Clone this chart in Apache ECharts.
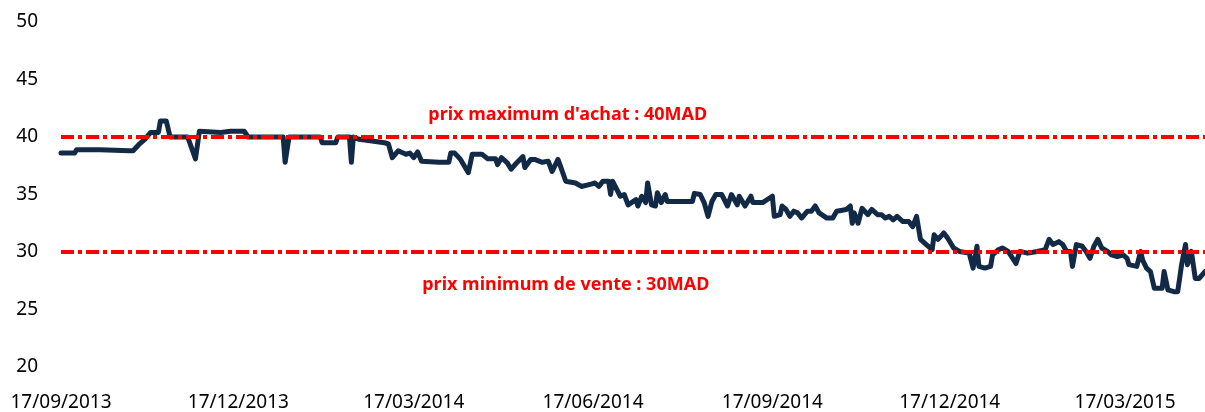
<!DOCTYPE html>
<html>
<head>
<meta charset="utf-8">
<script src="https://cdn.jsdelivr.net/npm/echarts@6/dist/echarts.min.js"></script>
<style>
  html, body { margin: 0; padding: 0; background: #fff; }
  #chart { width: 1205px; height: 412px; }
</style>
</head>
<body>
<div id="chart"></div>
<script>
// days counted from 17/09/2013
var dayOffsets = [
  0, 7, 8, 20, 35, 37, 40, 43, 46, 50, 51, 54, 56, 65, 69, 71, 82, 87, 94, 96,
  114, 115, 117, 133, 134, 141, 142, 148, 149, 150, 153, 166, 168, 170, 173, 177, 179, 181, 183, 185, 194,
  199, 200, 202, 205, 209, 211, 216, 219, 223, 224, 226, 229, 231, 233, 237, 238, 241, 243, 247, 250,
  252, 255, 256, 259, 264, 267, 272, 274, 276, 278, 281, 282, 283, 284, 287, 288, 289, 291,
  295, 296, 298, 300, 301, 302, 303, 305, 306, 308, 310, 311, 324, 325, 328, 330, 332, 334, 336, 339,
  342, 344, 347, 348, 351, 354, 355, 360, 365, 366, 369, 370, 372, 374, 376, 378, 380, 383, 385, 387, 388,
  389, 393, 396, 398, 403, 405, 406, 407, 409, 411, 414, 416, 419, 421, 423, 425, 427, 429, 432, 435,
  437, 439, 441, 444, 447, 448, 450, 453, 455, 456, 458, 461, 466, 468, 470, 471, 474, 477, 478, 481, 483, 486,
  487, 490, 492, 496, 501, 505, 507, 509, 512, 514, 516, 518, 519, 521, 524, 526, 528, 530, 532, 534,
  537, 539, 542, 545, 547, 548, 552, 554, 555, 557, 559, 561, 565, 566, 568, 571, 573, 575, 577, 578,
  580, 582, 584, 587
];
var prices = [
  38.6, 38.6, 38.9, 38.9, 38.8, 38.8, 39.35, 39.8, 40.4, 40.4, 41.4, 41.4, 40.0, 40.0, 38.1, 40.5, 40.4, 40.5, 40.5, 40.0,
  40.0, 37.8, 40.0, 40.0, 39.5, 39.5, 40.0, 40.0, 37.8, 40.0, 39.8, 39.5, 39.4, 38.2, 38.8, 38.5, 38.6, 38.2, 38.7, 37.9, 37.8,
  37.8, 38.6, 38.6, 38.05, 36.9, 38.5, 38.5, 38.1, 38.1, 37.6, 38.2, 37.75, 37.2, 37.6, 38.3, 37.35, 38.05, 38.05, 37.8, 37.9,
  37.0, 38.05, 37.6, 36.15, 36.0, 35.7, 35.9, 36.0, 35.7, 36.15, 36.15, 35.0, 36.15, 36.15, 34.85, 34.85, 35.0, 34.1,
  34.55, 34.0, 34.85, 34.3, 36.0, 36.15, 34.1, 34.0, 35.15, 34.3, 35.0, 34.4, 34.4, 35.1, 35.0, 34.3, 33.1, 34.4, 35.0, 35.0,
  34.0, 35.0, 34.1, 34.85, 34.0, 34.85, 34.3, 34.3, 34.85, 33.1, 33.25, 34.0, 33.7, 33.1, 33.55, 33.4, 32.95, 33.55, 33.55, 34.0, 33.7,
  33.4, 32.95, 32.95, 33.55, 33.7, 34.0, 32.5, 33.4, 32.5, 33.8, 33.25, 33.7, 33.25, 33.25, 32.95, 33.1, 32.8, 33.1, 32.65, 32.65,
  32.2, 33.1, 31.1, 30.65, 30.2, 31.5, 31.1, 31.65, 31.2, 31.35, 30.35, 30.05, 29.9, 28.6, 30.5, 28.75, 28.6, 28.75, 29.75, 30.2, 30.35, 30.05,
  29.9, 29.0, 30.05, 29.9, 30.05, 30.2, 31.1, 30.65, 30.9, 30.65, 30.05, 30.05, 28.75, 30.65, 30.5, 30.05, 29.45, 30.5, 31.1, 30.35,
  30.05, 29.75, 29.6, 29.75, 29.45, 28.9, 28.75, 30.05, 29.3, 28.6, 28.3, 26.85, 26.85, 28.3, 26.7, 26.55, 26.55, 28.9, 30.65, 28.9,
  30.05, 27.7, 27.7, 28.3
];
var lastDay = 587;
var tickLabels = ['17/09/2013', '17/12/2013', '17/03/2014', '17/06/2014', '17/09/2014', '17/12/2014', '17/03/2015'];
var limitValues = [40, 30];
var limitTexts = ["prix maximum d'achat : 40MAD", 'prix minimum de vente : 30MAD'];
// where the two notes sit: [day, price]
var limitTextAnchors = [[260, 41.95], [259, 27.15]];

var DAY = 86400000;
var startTime = Date.UTC(2013, 8, 17);

function labelToDay(s) {
  var p = s.split('/');
  return Math.round((Date.UTC(+p[2], +p[1] - 1, +p[0]) - startTime) / DAY);
}

var tickDays = tickLabels.map(labelToDay);

var seriesData = dayOffsets.map(function(d, i) {
  return [d, prices[i]];
});

var font = 'Noto Sans';

var chart = echarts.init(document.getElementById('chart'));
chart.setOption({
  animation: false,
  backgroundColor: '#fff',
  grid: { left: 61, right: 0, top: 22, bottom: 45 },
  xAxis: {
    type: 'value',
    min: 0,
    max: lastDay,
    axisLine: { show: false },
    axisTick: { show: false },
    splitLine: { show: false },
    axisLabel: {
      customValues: tickDays,
      hideOverlap: false,
      margin: 26,
      fontFamily: font,
      fontSize: 19,
      color: '#000',
      formatter: function(v) {
        var i = tickDays.indexOf(Math.round(v));
        return i >= 0 ? tickLabels[i] : '';
      }
    }
  },
  yAxis: {
    type: 'value',
    min: 20,
    max: 50,
    interval: 5,
    axisLine: { show: false },
    axisTick: { show: false },
    splitLine: { show: false },
    axisLabel: { margin: 23, fontFamily: font, fontSize: 19, color: '#000' }
  },
  series: [
    {
      type: 'line',
      data: seriesData,
      showSymbol: false,
      symbol: 'none',
      lineStyle: { color: '#132a47', width: 5, join: 'round', cap: 'round' },
      z: 2
    },
    {
      type: 'line',
      data: [],
      z: 5,
      markLine: {
        silent: true,
        symbol: ['none', 'none'],
        label: { show: false },
        lineStyle: { color: '#ff0000', width: 4, type: [13, 4, 4, 4], opacity: 1 },
        data: limitValues.map(function(v) { return { yAxis: v }; })
      },
      markPoint: {
        silent: true,
        symbol: 'circle',
        symbolSize: 0,
        label: {
          show: true,
          position: 'inside',
          color: '#ff0000',
          fontFamily: font,
          fontWeight: 'bold',
          fontSize: 18,
          formatter: function(p) { return p.name; }
        },
        data: limitTexts.map(function(t, i) {
          return { name: t, coord: limitTextAnchors[i] };
        })
      }
    }
  ]
});
</script>
</body>
</html>
